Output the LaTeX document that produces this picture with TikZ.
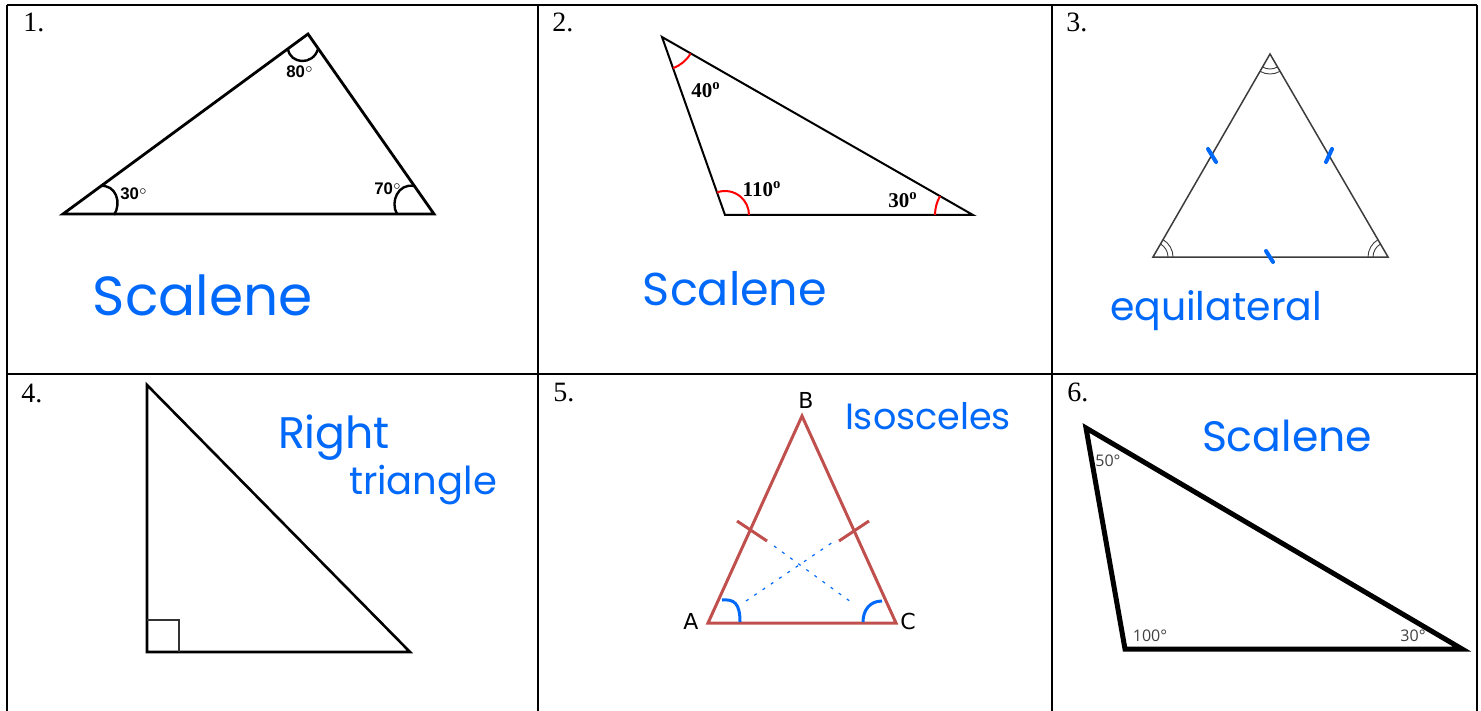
\documentclass[tikz,border=0pt]{standalone}
\usepackage{fontspec}
\usepackage{graphicx}
\setmainfont{Liberation Serif}
\newfontfamily\arialf{Liberation Sans}
\newfontfamily\handf{Poppins}
\newfontfamily\dejavf{DejaVu Sans}
\newfontfamily\opensf{Open Sans}
\definecolor{hblue}{RGB}{0,105,250}
\definecolor{tred}{RGB}{192,80,77}
\definecolor{tgray}{RGB}{60,60,60}
\newcommand\hwrite[2]{\resizebox{#1pt}{!}{\handf #2}}
\begin{document}
\begin{tikzpicture}[x=0.5pt,y=-0.5pt,
  gridline/.style={line width=1pt,black},
  numlabel/.style={anchor=base west,inner sep=0pt,font=\fontsize{14}{16}\selectfont},
  hand/.style={text=hblue,inner sep=0pt},
  tick/.style={hblue,line width=2pt,line cap=round},
  lab1/.style={inner sep=0pt,font=\arialf\bfseries\fontsize{8.4}{10}\selectfont},
  lab2/.style={inner sep=0pt,font=\bfseries\fontsize{10.5}{12}\selectfont},
  lab5/.style={inner sep=0pt,font=\dejavf\fontsize{11}{13}\selectfont},
  lab6/.style={inner sep=0pt,text=black!75,font=\opensf\fontsize{8}{10}\selectfont}]
\useasboundingbox (0,0) rectangle (1481,711);
\fill[white] (0,0) rectangle (1481,711);
\clip (0,0) rectangle (1481,711);

% table grid
\draw[gridline] (7,5) -- (1477,5);
\draw[gridline] (7,374) -- (1477,374);
\draw[gridline] (7,5) -- (7,720);
\draw[gridline] (538,5) -- (538,720);
\draw[gridline] (1052,5) -- (1052,720);
\draw[gridline] (1477,5) -- (1477,720);

% cell numbers
\node[numlabel] (n1) at (23,32) {1.};
\node[numlabel] (n2) at (552,32) {2.};
\node[numlabel] (n3) at (1066,32) {3.};
\node[numlabel] (n4) at (21,402) {4.};
\node[numlabel] (n5) at (553,401) {5.};
\node[numlabel] (n6) at (1067,401) {6.};

% ---------- 1 ----------
\coordinate (a1) at (63,214);
\coordinate (b1) at (308,34);
\coordinate (c1) at (434,214);
\draw[line width=1.4pt,line join=miter] (a1) -- (b1) -- (c1) -- cycle;
\draw[line width=1.2pt] (100,186) .. controls (116,184) and (122,203) .. (114,215);
\draw[line width=1.2pt] (288,49) .. controls (290,64) and (313,66) .. (318,49);
\draw[line width=1.2pt] (414,186) .. controls (398,183) and (390,202) .. (397,214);
\node[lab1] (t1a) at (134,194) {30$^{\circ}$};
\node[lab1] (t1b) at (300,72) {80$^{\circ}$};
\node[lab1] (t1c) at (388,189) {70$^{\circ}$};
\node[hand] (h1) at (203,295) {\hwrite{110}{Scalene}};

% ---------- 2 ----------
\coordinate (a2) at (662,37);
\coordinate (b2) at (725,215);
\coordinate (c2) at (973,215);
\draw[line width=1pt] (a2) -- (b2) -- (c2) -- cycle;
\draw[red,line width=1pt] (a2) ++(29.8:33) arc[start angle=29.8,end angle=70.5,radius=33];
\draw[red,line width=1pt] (b2) ++(250.5:24) arc[start angle=250.5,end angle=360,radius=24];
\draw[red,line width=1pt] (c2) ++(180:38) arc[start angle=180,end angle=209.8,radius=38];
\node[lab2] (t2a) at (706,90) {40\textsuperscript{o}};
\node[lab2] (t2b) at (762,189) {110\textsuperscript{o}};
\node[lab2] (t2c) at (903,200) {30\textsuperscript{o}};
\node[hand] (h2) at (735,289) {\hwrite{92}{Scalene}};

% ---------- 3 ----------
\coordinate (a3) at (1270,54);
\coordinate (b3) at (1153,257);
\coordinate (c3) at (1388,257);
\draw[tgray,line width=0.75pt] (a3) -- (b3) -- (c3) -- cycle;
\foreach \r in {15,20}{
  \draw[tgray,line width=0.45pt] (a3) ++(60:\r) arc[start angle=60,end angle=120,radius=\r];
  \draw[tgray,line width=0.45pt] (b3) ++(300:\r) arc[start angle=300,end angle=360,radius=\r];
  \draw[tgray,line width=0.45pt] (c3) ++(180:\r) arc[start angle=180,end angle=240,radius=\r];
}
\draw[tick] (1208,149) -- (1216,162);
\draw[tick] (1332,149) -- (1326,162);
\draw[tick] (1266,251) -- (1273,262);
\node[hand] (h3) at (1216,311) {\hwrite{106}{equilateral}};

% ---------- 4 ----------
\coordinate (a4) at (147,385);
\coordinate (b4) at (147,652);
\coordinate (c4) at (410,652);
\draw[line width=1.3pt,line join=miter] (a4) -- (b4) -- (c4) -- cycle;
\draw[black!80,line width=0.75pt] (147,620) -- (179,620) -- (179,652);
\node[hand] (h4a) at (334,438) {\hwrite{56}{Right}};
\node[hand] (h4b) at (423,485) {\hwrite{74}{triangle}};

% ---------- 5 ----------
\coordinate (b5) at (802,416);
\coordinate (a5) at (708,623);
\coordinate (c5) at (896,623);
\draw[tred,line width=1.5pt] (a5) -- (b5) -- (c5) -- cycle;
\draw[tred,line width=1.5pt] (737,521) -- (767,541);
\draw[tred,line width=1.5pt] (869,521) -- (839,541);
\draw[hblue,line width=0.6pt,dash pattern=on 1.5pt off 3.5pt] (746,601) -- (833,542);
\draw[hblue,line width=0.6pt,dash pattern=on 1.5pt off 3.5pt] (774,546) -- (851,602);
\draw[hblue,line width=1.5pt] (722,600) .. controls (734,599) and (740,603) .. (740,622);
\draw[hblue,line width=1.5pt] (882,601) .. controls (870,601) and (863,610) .. (863,622);
\node[lab5] (lb) at (806,400) {B};
\node[lab5] (la) at (691,621) {A};
\node[lab5] (lc) at (908,621) {C};
\node[hand] (h5) at (928,416) {\hwrite{83}{Isosceles}};

% ---------- 6 ----------
\coordinate (a6) at (1086,428);
\coordinate (b6) at (1125,649);
\coordinate (c6) at (1462,649);
\draw[line width=2.5pt,line join=miter] (a6) -- (b6) -- (c6) -- cycle;
\node[lab6] (t6a) at (1108,461) {50°};
\node[lab6] (t6b) at (1150,636) {100°};
\node[lab6] (t6c) at (1413,636) {30°};
\node[hand] (h6) at (1287,436) {\hwrite{85}{Scalene}};
\end{tikzpicture}
\end{document}
